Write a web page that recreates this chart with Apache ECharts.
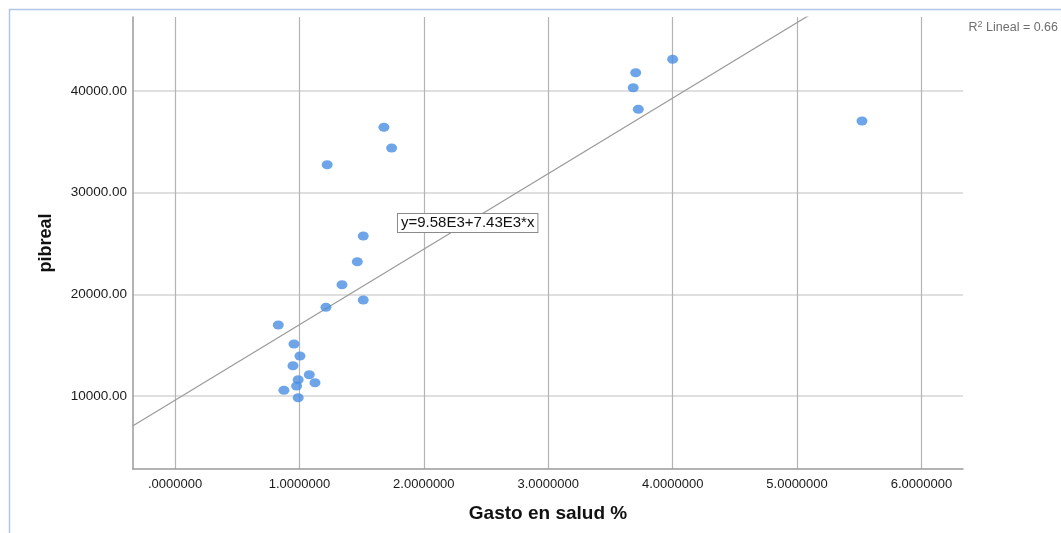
<!DOCTYPE html>
<html>
<head>
<meta charset="utf-8">
<script src="https://cdn.jsdelivr.net/npm/echarts@6/dist/echarts.min.js"></script>
<style>
  html, body { margin: 0; padding: 0; background: #ffffff; }
  #chart { width: 1061px; height: 533px; }
</style>
</head>
<body>
<div id="chart"></div>
<script>
// Health spending (%) vs. real GDP per observation
const gastoSalud = [0.830, 0.956, 1.004, 0.948, 1.079, 1.125, 0.990, 0.977, 0.875, 0.990,
                    1.213, 1.342, 1.513, 1.465, 1.513, 1.223, 1.679, 1.741,
                    3.683, 3.703, 3.724, 4.000, 5.522];
const pibreal = [16980, 15115, 13935, 12981, 12095, 11308, 11603, 10984, 10561, 9833,
                 18725, 20948, 19443, 23210, 25738, 32751, 36430, 34393,
                 40325, 41800, 38200, 43118, 37049];

// Linear fit  y = a + b*x
const intercept = 9580;
const slope = 7430;
const rSquared = 0.66;

// Axis ranges and tick positions
const xRange = [-0.338, 6.334];
const yRange = [2820, 47279];
const xTicks = [0, 1, 2, 3, 4, 5, 6];
const yTicks = [10000, 20000, 30000, 40000];

const points = gastoSalud.map((x, i) => [x, pibreal[i]]);
const fitLine = xRange.map(x => [x, intercept + slope * x]);
const eqText = 'y=' + (intercept / 1000).toFixed(2) + 'E3+' + (slope / 1000).toFixed(2) + 'E3*x';

const chart = echarts.init(document.getElementById('chart'), null, { renderer: 'canvas' });

chart.setOption({
  animation: false,
  backgroundColor: '#ffffff',
  grid: { left: 133, right: 98, top: 17, bottom: 64 },
  xAxis: {
    type: 'value',
    min: xRange[0],
    max: xRange[1],
    name: 'Gasto en salud %',
    nameLocation: 'middle',
    nameGap: 35,
    nameTextStyle: { fontFamily: 'Liberation Sans', fontWeight: 'bold', fontSize: 19, color: '#111' },
    axisLine: { show: true, onZero: false, lineStyle: { color: '#9a9a9a', width: 1.5 } },
    axisTick: { show: false, customValues: xTicks },
    axisLabel: {
      customValues: xTicks,
      margin: 9,
      fontFamily: 'Liberation Sans',
      fontSize: 13,
      color: '#1a1a1a',
      formatter: v => { const s = Number(v).toFixed(7); return s.startsWith('0.') ? s.slice(1) : s; }
    },
    splitLine: { show: true, lineStyle: { color: '#b4b4b4', width: 1.2 } }
  },
  yAxis: {
    type: 'value',
    min: yRange[0],
    max: yRange[1],
    name: 'pibreal',
    nameLocation: 'middle',
    nameGap: 78,
    nameTextStyle: { fontFamily: 'Liberation Sans', fontWeight: 'bold', fontSize: 18, color: '#111' },
    axisLine: { show: true, onZero: false, lineStyle: { color: '#9a9a9a', width: 1.5 } },
    axisTick: { show: false, customValues: yTicks },
    axisLabel: {
      customValues: yTicks,
      margin: 6,
      fontFamily: 'Liberation Sans',
      fontSize: 13.5,
      color: '#1a1a1a',
      formatter: v => Number(v).toFixed(2)
    },
    splitLine: { show: true, lineStyle: { color: '#d4d4d4', width: 1.5 } }
  },
  series: [
    {
      type: 'line',
      data: fitLine,
      clip: true,
      symbol: 'none',
      silent: true,
      lineStyle: { color: '#9a9a9a', width: 1.2 },
      z: 3,
      markPoint: {
        symbol: 'rect',
        symbolSize: 0,
        silent: true,
        data: [{ coord: [1.792, 27016], value: 0 }],
        label: {
          show: true,
          position: 'right',
          distance: 0,
          formatter: eqText,
          fontFamily: 'Liberation Sans',
          fontSize: 15,
          color: '#111',
          backgroundColor: '#ffffff',
          borderColor: '#8a8a8a',
          borderWidth: 1,
          padding: [2, 3, 1, 3]
        }
      }
    },
    {
      type: 'scatter',
      data: points,
      symbol: 'circle',
      symbolSize: [11, 9],
      itemStyle: { color: '#4a8fe3' },
      z: 4
    }
  ],
  graphic: [
    {
      type: 'rect',
      left: 7, top: 7,
      shape: { width: 1200, height: 800 },
      style: { fill: 'none', stroke: '#b4c6e6', lineWidth: 1.5 },
      silent: true,
      z: 0
    },
    {
      type: 'text',
      right: 3, top: 20,
      style: {
        text: '{a|R}{s|2}{a| Lineal = ' + rSquared.toFixed(2) + '}',
        rich: {
          a: { fontFamily: 'Liberation Sans', fontSize: 12.5, fill: '#6e6e6e' },
          s: { fontFamily: 'Liberation Sans', fontSize: 9, fill: '#6e6e6e', padding: [0, 0, 6, 0] }
        }
      }
    }
  ]
});
</script>
</body>
</html>
